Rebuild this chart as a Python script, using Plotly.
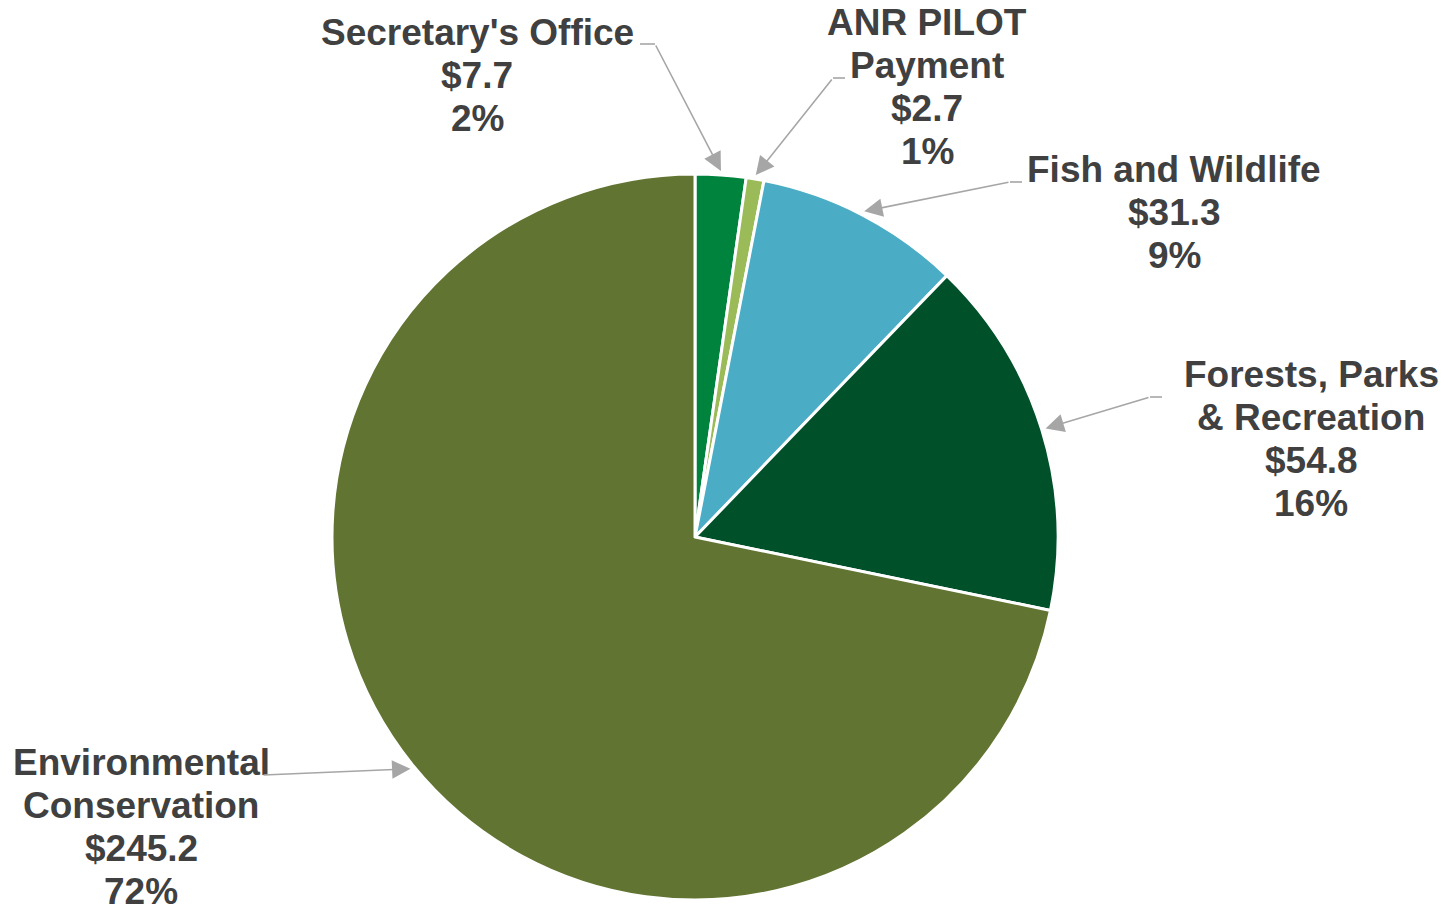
import math
import plotly.graph_objects as go

# ---- data ----
categories = ["Secretary's Office", "ANR PILOT Payment", "Fish and Wildlife",
              "Forests, Parks & Recreation", "Environmental Conservation"]
values = [7.7, 2.7, 31.3, 54.8, 245.2]
label_lines = [["Secretary's Office"], ["ANR PILOT", "Payment"], ["Fish and Wildlife"],
               ["Forests, Parks", "& Recreation"], ["Environmental", "Conservation"]]
colors = ["#00843D", "#9BBB59", "#4BACC6", "#00502A", "#617431"]

# ---- layout constants (pixels, page coordinates; page has 8px body margin) ----
W, H = 1451, 905
OFF = 8
CX, CY, R = 695, 537, 363
label_pos = [(477, 32), (927, 22), (1174, 169), (1311, 374), (141, 762)]  # centre x, first line y
leader_start = [(640, 44), (845, 78), (1022, 182), (1162, 397), (262, 775)]
leader_elbow = [(655, 44), (833, 78), (1010, 182), (1150, 397), (262, 775)]
LINE_H = 43.2
FONT = dict(family="Liberation Sans, Arial, sans-serif", size=37, color="#404040", weight="bold")
LEAD = "#A6A6A6"


def px(x):
    return (x - OFF) / W


def py(y):
    return 1 - (y - OFF) / H


fig = go.Figure(go.Pie(
    labels=categories, values=values, sort=False, direction="clockwise", rotation=0,
    marker=dict(colors=colors, line=dict(color="white", width=3)),
    textinfo="none", hoverinfo="label+value+percent", showlegend=False,
    domain=dict(x=[px(CX - R), px(CX + R)], y=[py(CY + R), py(CY - R)]),
))

total = sum(values)
annotations = []
shapes = []
cum = 0.0
for i, v in enumerate(values):
    mid = (cum + v / 2) / total * 2 * math.pi
    cum += v
    tx = CX + (R + 4) * math.sin(mid)
    ty = CY - (R + 4) * math.cos(mid)
    lines = label_lines[i] + ["${:.1f}".format(v), "{:.0f}%".format(v / total * 100)]
    lx, ly = label_pos[i]
    for k, t in enumerate(lines):
        annotations.append(dict(
            x=px(lx), y=py(ly + k * LINE_H), xref="paper", yref="paper",
            text=t, showarrow=False, xanchor="center", yanchor="middle", font=FONT))
    sx, sy = leader_start[i]
    ex, ey = leader_elbow[i]
    if (sx, sy) != (ex, ey):
        shapes.append(dict(type="line", xref="paper", yref="paper",
                           x0=px(sx), y0=py(sy), x1=px(ex), y1=py(ey),
                           line=dict(color=LEAD, width=1.6)))
    annotations.append(dict(
        x=px(tx), y=py(ty), xref="paper", yref="paper", text="",
        showarrow=True, ax=ex - tx, ay=ey - ty, axref="pixel", ayref="pixel",
        arrowhead=2, arrowsize=2.3, arrowwidth=1.6, arrowcolor=LEAD, standoff=0))

fig.update_layout(
    width=W, height=H, margin=dict(l=0, r=0, t=0, b=0),
    paper_bgcolor="white", plot_bgcolor="white",
    annotations=annotations, shapes=shapes,
)
fig.write_html("out.html")
